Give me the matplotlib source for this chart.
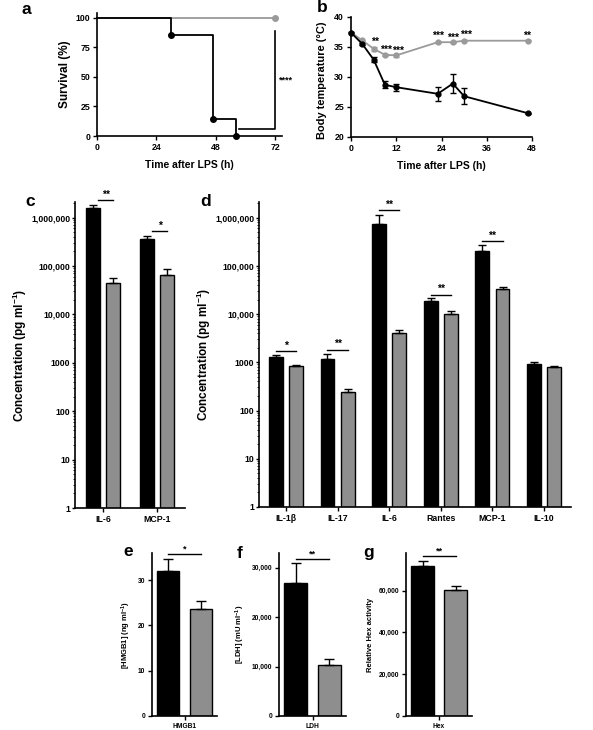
import matplotlib
matplotlib.use('Agg')
import matplotlib.pyplot as plt
import numpy as np
from matplotlib.ticker import FixedLocator, FixedFormatter, LogLocator, NullFormatter

plt.rcParams['font.family'] = ['Liberation Sans', 'DejaVu Sans']
plt.rcParams['font.weight'] = 'bold'
plt.rcParams['axes.labelweight'] = 'bold'
plt.rcParams['mathtext.fontset'] = 'custom'
plt.rcParams['mathtext.rm'] = 'Liberation Sans:bold'
plt.rcParams['mathtext.it'] = 'Liberation Sans:bold'
plt.rcParams['mathtext.bf'] = 'Liberation Sans:bold'

# ---------------- data ----------------
# a: survival
surv_t_black = [0, 30, 47, 56]
surv_black = [100, 85.7, 14.3, 0]
surv_t_gray = [0, 72]
surv_gray = [100, 100]

# b: body temperature
temp_t = [0, 3, 6, 9, 12, 23, 27, 30, 47]
temp_black = [37.4, 35.5, 32.9, 28.7, 28.3, 27.2, 28.9, 26.8, 23.95]
temp_black_err = [0.1, 0.15, 0.4, 0.6, 0.6, 1.2, 1.6, 1.3, 0.1]
temp_gray = [37.4, 36.1, 34.7, 33.7, 33.6, 35.8, 35.8, 36.05, 36.05]
temp_gray_err = [0.1, 0.1, 0.35, 0.15, 0.3, 0.1, 0.1, 0.1, 0.1]
temp_star_t = [6.3, 9.4, 12.5, 23.1, 27.1, 30.4, 46.8]
temp_star_y = [35.9, 34.6, 34.3, 36.9, 36.6, 37.0, 36.9]
temp_star_lab = ['**', '***', '***', '***', '***', '***', '**']

# c: cytokines (log)
cats_c = ['IL-6', 'MCP-1']
black_c = [1560000, 355000]
black_c_err = [270000, 63000]
gray_c = [44000, 64000]
gray_c_err = [13000, 21000]
sig_c_y = [2300000, 527000]
sig_c_lab = ['**', '*']

# d: cytokines (log)
cats_d = ['IL-1β', 'IL-17', 'IL-6', 'Rantes', 'MCP-1', 'IL-10']
black_d = [1300, 1170, 740000, 19000, 203000, 930]
black_d_err = [100, 300, 400000, 2600, 71000, 100]
gray_d = [820, 245, 4000, 9800, 32600, 780]
gray_d_err = [60, 30, 730, 1900, 4400, 75]
sig_d_idx = [0, 1, 2, 3, 4]
sig_d_y = [1690, 1800, 1400000, 25000, 320000]
sig_d_lab = ['*', '**', '**', '**', '**']

# e, f, g
cats_e = ['HMGB1']; black_e = [32.0]; black_e_err = [2.7]; gray_e = [23.6]; gray_e_err = [1.8]
cats_f = ['LDH']; black_f = [27000]; black_f_err = [4000]; gray_f = [10300]; gray_f_err = [1300]
cats_g = ['Hex']; black_g = [72000]; black_g_err = [2000]; gray_g = [60300]; gray_g_err = [2000]

GRAY = '#8e8e8e'
LGRAY = '#9a9a9a'
STAR_FS = 7.5

W, H = 593, 730
fig = plt.figure(figsize=(W / 100, H / 100), dpi=100)


def px_axes(l, t, r, b):
    return fig.add_axes([l / W, 1 - b / H, (r - l) / W, (b - t) / H])


def style(ax, fs=6.3):
    for s in ['top', 'right']:
        ax.spines[s].set_visible(False)
    for s in ['left', 'bottom']:
        ax.spines[s].set_linewidth(1.2)
    ax.tick_params(direction='out', length=3, width=1, labelsize=fs, pad=2)
    for lab in ax.get_xticklabels() + ax.get_yticklabels():
        lab.set_fontweight('bold')


def panel_letter(x, y, s):
    fig.text(x / W, 1 - y / H, s, ha='center', va='center', fontsize=12.5, fontweight='bold')


# ---------------- a ----------------
ax = px_axes(97, 13, 282, 136)
ax.step(surv_t_gray, surv_gray, where='post', color=LGRAY, lw=1.3, clip_on=False)
ax.plot(surv_t_gray[-1:], surv_gray[-1:], 'o', color=LGRAY, ms=4, clip_on=False)
ax.step(surv_t_black, surv_black, where='post', color='black', lw=1.3, clip_on=False)
ax.plot(surv_t_black[1:], surv_black[1:], 'o', color='black', ms=4, clip_on=False, zorder=5)
ax.plot([57.5, 72, 72], [5.9, 5.9, 89], color='black', lw=1.2)
ax.text(73.5, 47, '****', fontsize=6.5, ha='left', va='center')
ax.set_xlim(0, 74.8)
ax.set_ylim(0, 104)
ax.set_xticks([0, 24, 48, 72])
ax.set_yticks([0, 25, 50, 75, 100])
ax.set_ylabel('Survival (%)', fontsize=8.5, labelpad=3)
ax.set_xlabel('Time after LPS (h)', fontsize=7.5, labelpad=6)
style(ax)

# ---------------- b ----------------
ax = px_axes(351, 17, 532, 137)
ax.errorbar(temp_t, temp_gray, yerr=temp_gray_err, color=LGRAY, marker='o', ms=3.5,
            lw=1.3, capsize=2.5, elinewidth=1, capthick=1, clip_on=False)
ax.errorbar(temp_t, temp_black, yerr=temp_black_err, color='black', marker='o', ms=3.5,
            lw=1.3, capsize=2.5, elinewidth=1, capthick=1, clip_on=False)
for t, y, s in zip(temp_star_t, temp_star_y, temp_star_lab):
    ax.text(t, y, s, fontsize=STAR_FS, ha='center', va='center')
ax.set_xlim(0, 48)
ax.set_ylim(20, 40)
ax.set_xticks([0, 12, 24, 36, 48])
ax.set_yticks([20, 25, 30, 35, 40])
ax.set_ylabel('Body temperature (°C)', fontsize=7.9, labelpad=3)
ax.yaxis.set_label_coords(-0.135, 0.47)
ax.set_xlabel('Time after LPS (h)', fontsize=7.5, labelpad=6)
style(ax)


def log_bars(ax, cats, black, black_err, gray, gray_err, off, width, xlim):
    x = np.arange(len(cats))
    ax.bar(x - off, black, width, color='black', edgecolor='black', lw=1,
           yerr=[np.zeros(len(cats)), black_err],
           error_kw=dict(ecolor='black', elinewidth=1, capsize=3, capthick=1))
    ax.bar(x + off, gray, width, color=GRAY, edgecolor='black', lw=1,
           yerr=[np.zeros(len(cats)), gray_err],
           error_kw=dict(ecolor='black', elinewidth=1, capsize=3, capthick=1))
    ax.set_yscale('log')
    ax.set_ylim(1, 2.1e6)
    ax.set_xlim(*xlim)
    ax.set_xticks(x)
    ax.set_xticklabels(cats)
    ax.yaxis.set_major_locator(FixedLocator([1, 10, 100, 1000, 1e4, 1e5, 1e6]))
    ax.yaxis.set_major_formatter(FixedFormatter(['1', '10', '100', '1000', '10,000',
                                                 '100,000', '1,000,000']))
    ax.yaxis.set_minor_locator(LogLocator(base=10, subs=np.arange(2, 10), numticks=20))
    ax.yaxis.set_minor_formatter(NullFormatter())
    ax.set_ylabel('Concentration (pg ml$^{-1}$)', fontsize=8.5, labelpad=2)
    style(ax)
    ax.tick_params(axis='y', which='major', length=2.5, pad=0.8)
    ax.tick_params(axis='y', which='minor', length=1.5, width=0.6)
    return x


# ---------------- c ----------------
ax = px_axes(75, 202, 185, 508)
x = log_bars(ax, cats_c, black_c, black_c_err, gray_c, gray_c_err, 0.185, 0.26, (-0.52, 1.52))
for i, (y, s) in enumerate(zip(sig_c_y, sig_c_lab)):
    ax.plot([x[i] - 0.1, x[i] + 0.185], [y, y], color='black', lw=1, clip_on=False)
    ax.text(x[i] + 0.05, y * 1.03, s, fontsize=STAR_FS, ha='center', va='bottom')

# ---------------- d ----------------
ax = px_axes(259, 202, 571, 507)
x = log_bars(ax, cats_d, black_d, black_d_err, gray_d, gray_d_err, 0.194, 0.27, (-0.52, 5.52))
for i, y, s in zip(sig_d_idx, sig_d_y, sig_d_lab):
    ax.plot([x[i] - 0.194, x[i] + 0.194], [y, y], color='black', lw=1, clip_on=False)
    ax.text(x[i], y * 1.03, s, fontsize=STAR_FS, ha='center', va='bottom')


# ---------------- e, f, g ----------------
def lin_bars(ax, cats, black, black_err, gray, gray_err, ylim, yticks, ylabels, ylabel, sig_y, sig_lab):
    x = np.arange(len(cats))
    ax.bar(x - 0.5, black, 0.68, color='black', edgecolor='black', lw=1,
           yerr=[np.zeros(len(cats)), black_err],
           error_kw=dict(ecolor='black', elinewidth=1, capsize=3.5, capthick=1))
    ax.bar(x + 0.5, gray, 0.68, color=GRAY, edgecolor='black', lw=1,
           yerr=[np.zeros(len(cats)), gray_err],
           error_kw=dict(ecolor='black', elinewidth=1, capsize=3.5, capthick=1))
    ax.plot([x[0] - 0.5, x[0] + 0.5], [sig_y, sig_y], color='black', lw=1, clip_on=False)
    ax.text(x[0], sig_y, sig_lab, fontsize=6.5, ha='center', va='bottom')
    ax.set_xlim(-1.0, 1.0)
    ax.set_ylim(*ylim)
    ax.set_xticks(x)
    ax.set_xticklabels(cats)
    ax.set_yticks(yticks)
    ax.set_yticklabels(ylabels)
    ax.set_ylabel(ylabel, fontsize=5.5, labelpad=3)
    style(ax, fs=4.8)


ax = px_axes(152, 553, 217, 716)
lin_bars(ax, cats_e, black_e, black_e_err, gray_e, gray_e_err, (0, 36), [0, 10, 20, 30],
         ['0', '10', '20', '30'], '[HMGB1] (ng ml$^{-1}$)', 35.8, '*')

ax = px_axes(279, 553, 346, 716)
lin_bars(ax, cats_f, black_f, black_f_err, gray_f, gray_f_err, (0, 33000), [0, 10000, 20000, 30000],
         ['0', '10,000', '20,000', '30,000'], '[LDH] (mU ml$^{-1}$)', 31800, '**')

ax = px_axes(406, 553, 472, 716)
lin_bars(ax, cats_g, black_g, black_g_err, gray_g, gray_g_err, (0, 78000), [0, 20000, 40000, 60000],
         ['0', '20,000', '40,000', '60,000'], 'Relative Hex activity', 76800, '**')

panel_letter(26, 9, 'a')
panel_letter(322, 8, 'b')
panel_letter(30, 201, 'c')
panel_letter(206, 201, 'd')
panel_letter(128, 552, 'e')
panel_letter(240, 553, 'f')
panel_letter(369, 553, 'g')

fig.savefig('out.png', dpi=100)
